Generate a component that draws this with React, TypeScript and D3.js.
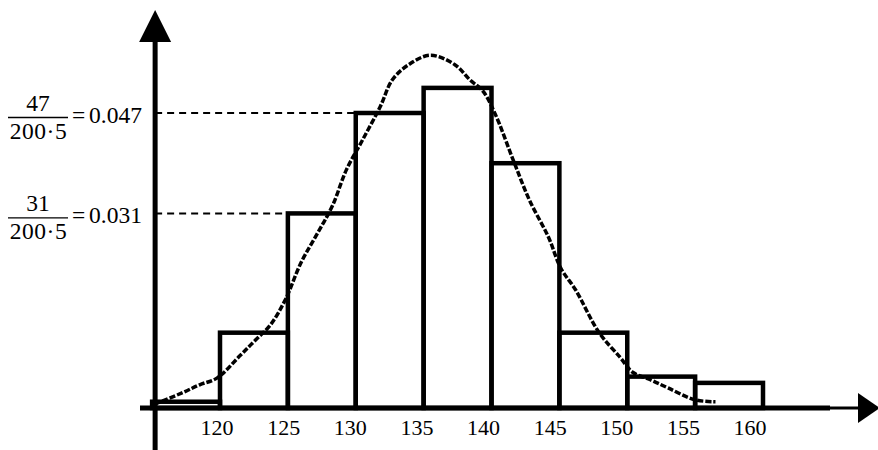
import React from "react";
import * as d3 from "d3";

// histogram of heights, class width 5, n = 200
const binStarts = [115, 120, 125, 130, 135, 140, 145, 150, 155];
const binCounts = [1, 12, 31, 47, 51, 39, 12, 5, 4];
const sampleSize = 200;
const binWidth = 5;
const tickLabels = [120, 125, 130, 135, 140, 145, 150, 155, 160];
const markedCounts = [47, 31];

// density curve
const curveX = [115.2, 117.3, 118.5, 119.8, 121.5, 122.6, 123.7, 124.8, 126.0, 127.2, 128.3, 129.3, 130.5, 131.8, 132.7, 133.9, 135.5, 137.3, 138.4, 139.4, 140.3, 141.6, 142.8, 144.2, 145.1, 146.2, 147.9, 149.5, 150.4, 151.7, 153.0, 155.0, 156.5];
const curveY = [0.0006, 0.0025, 0.0037, 0.0048, 0.0084, 0.0108, 0.0132, 0.0172, 0.0233, 0.0279, 0.0323, 0.0379, 0.0427, 0.048, 0.0523, 0.0547, 0.0562, 0.0547, 0.0523, 0.0504, 0.0467, 0.0395, 0.0331, 0.0272, 0.0223, 0.0188, 0.0121, 0.008, 0.0057, 0.0045, 0.0032, 0.0013, 0.001];

const W = 878;
const H = 450;
const font = "'Liberation Serif', 'Times New Roman', serif";

const App = () => {
  const x = d3.scaleLinear().domain([120, 160]).range([220, 763]);
  const y = d3.scaleLinear().domain([0, 0.047]).range([408, 113]);
  // the printed labels drift a little left of the class borders
  const xLabel = d3.scaleLinear().domain([120, 160]).range([x(120) - 3, x(160) - 13]);

  const density = (c: number) => c / (sampleSize * binWidth);
  const axisX = x(115) + 3;
  const axisY = y(0);

  const line = d3
    .line<number>()
    .x((d) => x(d))
    .y((d, i) => y(curveY[i]))
    .curve(d3.curveCatmullRom.alpha(0.5));

  return (
    <svg width={W} height={H} style={{ position: "absolute", left: 0, top: 0, background: "#fff" }}>
      {/* bars */}
      {binStarts.map((s, i) => (
        <rect
          key={s}
          x={x(s)}
          y={y(density(binCounts[i]))}
          width={x(s + binWidth) - x(s)}
          height={axisY - y(density(binCounts[i]))}
          fill="none"
          stroke="#000"
          strokeWidth={4.5}
        />
      ))}

      {/* density curve */}
      <path d={line(curveX) || ""} fill="none" stroke="#000" strokeWidth={3.5} strokeDasharray="6 2" />

      {/* dashed guides */}
      {markedCounts.map((c) => {
        const bin = binCounts.indexOf(c);
        return (
          <line
            key={c}
            x1={axisX}
            x2={x(binStarts[bin])}
            y1={y(density(c))}
            y2={y(density(c))}
            stroke="#000"
            strokeWidth={2}
            strokeDasharray="7 5"
          />
        );
      })}

      {/* axes */}
      <line x1={axisX} x2={axisX} y1={40} y2={H} stroke="#000" strokeWidth={5} />
      <path d={`M${axisX},10 L${axisX - 16},42 L${axisX + 16},42 Z`} fill="#000" />
      <line x1={140} x2={830} y1={axisY} y2={axisY} stroke="#000" strokeWidth={5} />
      <line x1={828} x2={860} y1={axisY} y2={axisY} stroke="#000" strokeWidth={3} />
      <path d={`M880,${axisY} L858,${axisY - 15} L858,${axisY + 15} Z`} fill="#000" />

      {/* x tick labels */}
      {tickLabels.map((t) => (
        <text key={t} x={xLabel(t)} y={axisY + 27} textAnchor="middle" fontFamily={font} fontSize={22}>
          {t}
        </text>
      ))}

      {/* y labels as fractions */}
      {markedCounts.map((c) => {
        const yy = y(density(c));
        return (
          <g key={c} fontFamily={font} fontSize={23.5}>
            <text x={38} y={yy - 2} textAnchor="middle">{c}</text>
            <line x1={8} x2={68} y1={yy + 4.5} y2={yy + 4.5} stroke="#000" strokeWidth={1.3} />
            <text x={38.5} y={yy + 26} textAnchor="middle" letterSpacing={0.5}>
              {`${sampleSize}·${binWidth}`}
            </text>
            <text x={72} y={yy + 10}>=</text>
            <text x={89} y={yy + 10}>{density(c).toFixed(3)}</text>
          </g>
        );
      })}
    </svg>
  );
};

export default App;
